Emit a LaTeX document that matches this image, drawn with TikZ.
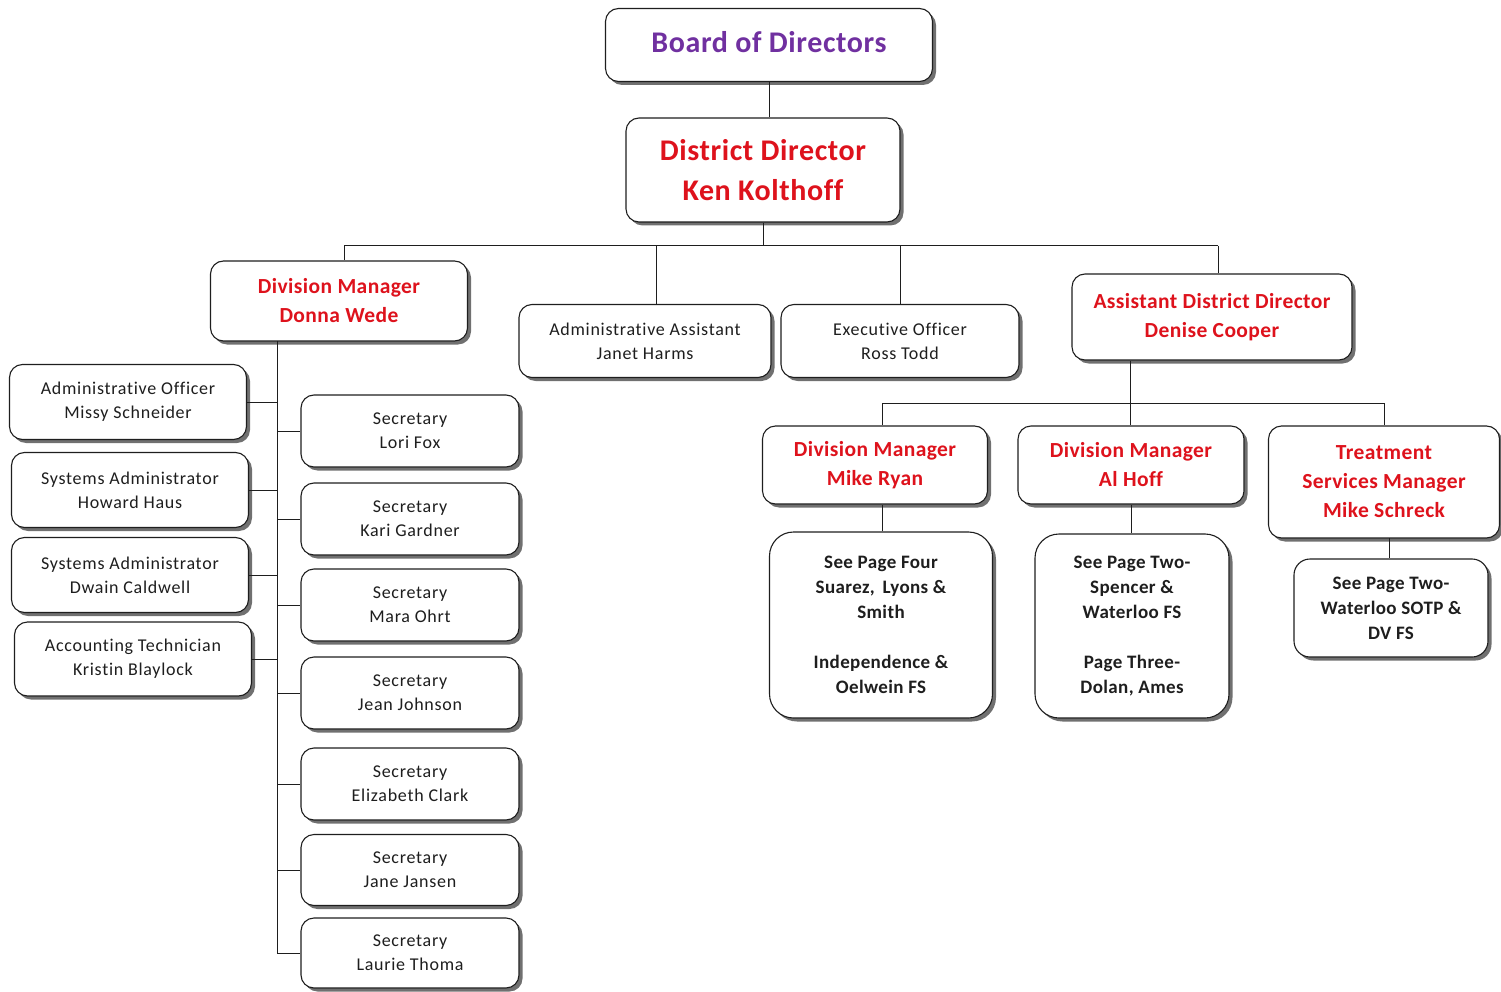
\documentclass[tikz,border=0pt]{standalone}
\usepackage{fontspec}
\setmainfont{Carlito}
\newfontfamily\wideface[LetterSpace=4,Ligatures=NoCommon]{Carlito}
\newfontfamily\semiwide[LetterSpace=2,Ligatures=NoCommon]{Carlito}
\usetikzlibrary{shadows}
\definecolor{redtxt}{RGB}{222,18,28}
\definecolor{purptxt}{RGB}{112,48,160}
\definecolor{ink}{RGB}{30,30,30}
\tikzset{
  orgbox/.style={draw=ink, line width=1.1pt, fill=white, rounded corners=13pt,
    align=center, inner sep=0pt,
    drop shadow={shadow xshift=3.5pt, shadow yshift=-3.5pt, fill=black!70, opacity=0.8}},
  staff/.style={orgbox, font=\wideface\fontsize{18}{24}\selectfont, text=ink},
  mgr/.style={orgbox, font=\semiwide\bfseries\fontsize{21.5}{29}\selectfont, text=redtxt},
  top/.style={orgbox, font=\semiwide\bfseries\fontsize{30}{40}\selectfont},
  note/.style={orgbox, rounded corners=24pt, font=\semiwide\bfseries\fontsize{19}{25}\selectfont, text=ink},
  link/.style={draw=ink, line width=1pt}
}
\begin{document}
\begin{tikzpicture}[x=1pt, y=-1pt]
\useasboundingbox (0,0) rectangle (1501,992);

% top of the chart
\node[top, text=purptxt, minimum width=327, minimum height=73, text depth=6pt] (board) at (769,45) {Board of Directors};
\node[top, text=redtxt, minimum width=274, minimum height=104] (dd) at (763,170) {District Director\\Ken Kolthoff};

% second level
\node[mgr, minimum width=257, minimum height=80] (dw) at (339,301) {Division Manager\\Donna Wede};
\node[staff, minimum width=252, minimum height=73] (aa) at (645,341) {Administrative Assistant\\Janet Harms};
\node[staff, minimum width=238, minimum height=73] (eo) at (900,341) {Executive Officer\\Ross Todd};
\node[mgr, minimum width=280, minimum height=86] (adc) at (1212,317) {Assistant District Director\\Denise Cooper};

% staff reporting to Donna Wede (left column)
\node[staff, minimum width=237, minimum height=75] (ao) at (128,402) {Administrative Officer\\Missy Schneider};
\node[staff, minimum width=237, minimum height=75] (sa1) at (130,490) {Systems Administrator\\Howard Haus};
\node[staff, minimum width=237, minimum height=75] (sa2) at (130,575) {Systems Administrator\\Dwain Caldwell};
\node[staff, minimum width=237, minimum height=74] (at) at (133,659) {Accounting Technician\\Kristin Blaylock};

% secretaries (right column)
\node[staff, minimum width=218, minimum height=72] (s1) at (410,431) {Secretary\\Lori Fox};
\node[staff, minimum width=218, minimum height=72] (s2) at (410,519) {Secretary\\Kari Gardner};
\node[staff, minimum width=218, minimum height=72] (s3) at (410,605) {Secretary\\Mara Ohrt};
\node[staff, minimum width=218, minimum height=72] (s4) at (410,693) {Secretary\\Jean Johnson};
\node[staff, minimum width=218, minimum height=72] (s5) at (410,784) {Secretary\\Elizabeth Clark};
\node[staff, minimum width=218, minimum height=71] (s6) at (410,870) {Secretary\\Jane Jansen};
\node[staff, minimum width=218, minimum height=70] (s7) at (410,953) {Secretary\\Laurie Thoma};

% managers under the Assistant District Director
\node[mgr, minimum width=225, minimum height=78] (mr) at (875,465) {Division Manager\\Mike Ryan};
\node[mgr, minimum width=226, minimum height=78] (ah) at (1131,465) {Division Manager\\Al Hoff};
\node[mgr, minimum width=231, minimum height=112] (ms) at (1384,482) {Treatment\\Services Manager\\Mike Schreck};

% page references
\node[note, minimum width=223, minimum height=186] (p4) at (881,625) {See Page Four\\Suarez,\, Lyons \&\\Smith\\[25pt]Independence \&\\Oelwein FS};
\node[note, minimum width=194, minimum height=184] (p2a) at (1132,626) {See Page Two-\\Spencer \&\\Waterloo FS\\[25pt]Page Three-\\Dolan, Ames};
\node[note, rounded corners=16pt, minimum width=194, minimum height=98] (p2b) at (1391,608) {See Page Two-\\Waterloo SOTP \&\\DV FS};

% connectors: board to director
\draw[link] (board.south) -- (board.south |- dd.north);

% director to second level
\coordinate (bL) at (344,246);
\coordinate (bR) at (1218,246);
\draw[link] (bL) -- (bR);
\draw[link] (dd.south) -- (dd.south |- bL);
\draw[link] (bL) -- (bL |- dw.north);
\coordinate (aaTop) at (656,246);
\draw[link] (aaTop) -- (aaTop |- aa.north);
\draw[link] (eo.north |- bL) -- (eo.north);
\draw[link] (bR) -- (bR |- adc.north);

% Donna Wede's spine
\coordinate (sp) at (277,341);
\coordinate (spEnd) at (277,953);
\draw[link] (sp) -- (spEnd);
\foreach \n in {ao,sa1,sa2,at} \draw[link] (\n.east) -- (\n.east -| sp);
\foreach \n in {s1,s2,s3,s4,s5,s6,s7} \draw[link] (sp |- \n.west) -- (\n.west);

% Assistant District Director's branch
\coordinate (adcBus) at (1130,403);
\coordinate (mrTop) at (882,403);
\draw[link] (adcBus |- adc.south) -- (adcBus);
\draw[link] (mrTop) -- (ms.north |- adcBus);
\draw[link] (mrTop) -- (mrTop |- mr.north);
\draw[link] (adcBus) -- (adcBus |- ah.north);
\draw[link] (ms.north |- adcBus) -- (ms.north);

% managers to page references
\draw[link] (p4.north -| mrTop) -- (mrTop |- mr.south);
\draw[link] (ah.south) -- (ah.south |- p2a.north);
\coordinate (msLow) at (1389,538);
\draw[link] (msLow) -- (msLow |- p2b.north);
\end{tikzpicture}
\end{document}
